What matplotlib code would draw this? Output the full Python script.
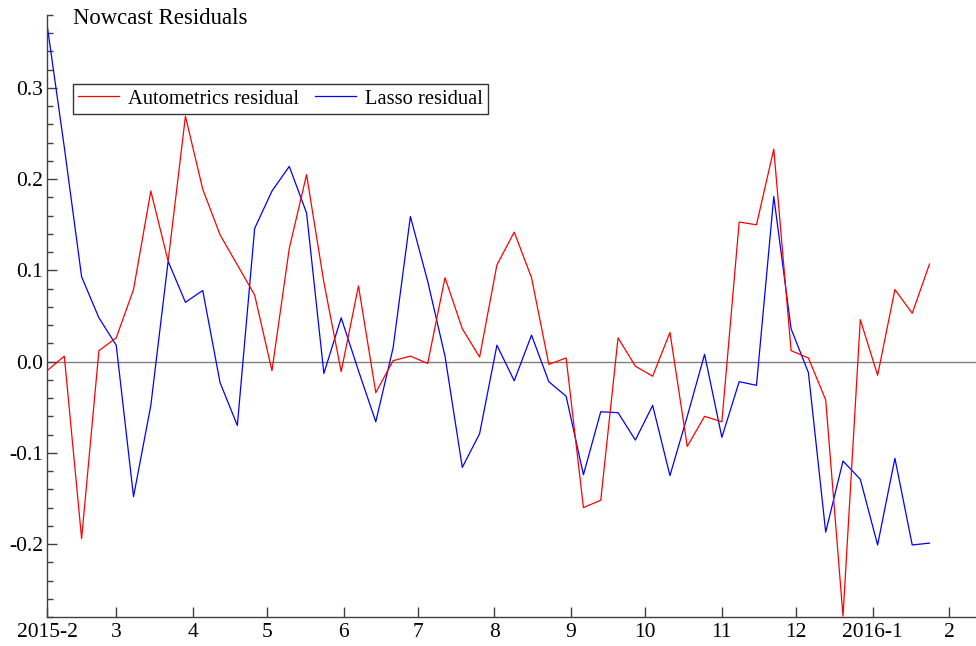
import matplotlib
matplotlib.use('Agg')
import matplotlib.pyplot as plt
import matplotlib.dates as mdates
import numpy as np
import pandas as pd

plt.rcParams['font.family'] = ['Liberation Serif', 'DejaVu Serif']
plt.rcParams['axes.unicode_minus'] = False

# weekly nowcast residuals, Feb 2015 - Jan 2016
weeks = pd.date_range('2015-02-01', periods=52, freq='7D')

autometrics = [
    -0.010, 0.006, -0.194, 0.012, 0.026, 0.079, 0.187, 0.110, 0.269, 0.189,
    0.139, 0.106, 0.073, -0.010, 0.124, 0.205, 0.087, -0.011, 0.083, -0.034,
    0.001, 0.006, -0.002, 0.092, 0.036, 0.005, 0.106, 0.142, 0.092, -0.003,
    0.004, -0.160, -0.152, 0.026, -0.005, -0.016, 0.032, -0.093, -0.060, -0.066,
    0.153, 0.150, 0.233, 0.012, 0.004, -0.042, -0.279, 0.046, -0.015, 0.079,
    0.053, 0.107,
]
lasso = [
    0.370, 0.235, 0.093, 0.048, 0.018, -0.148, -0.048, 0.110, 0.065, 0.078,
    -0.023, -0.070, 0.146, 0.187, 0.214, 0.163, -0.013, 0.048, -0.010, -0.066,
    0.015, 0.159, 0.088, 0.006, -0.116, -0.079, 0.018, -0.021, 0.029, -0.022,
    -0.038, -0.124, -0.055, -0.056, -0.086, -0.048, -0.125, -0.060, 0.008, -0.083,
    -0.022, -0.026, 0.181, 0.036, -0.012, -0.187, -0.109, -0.129, -0.201, -0.106,
    -0.201, -0.199,
]

yticks = [-0.2, -0.1, 0.0, 0.1, 0.2, 0.3]

fig = plt.figure(figsize=(9.76, 6.46), dpi=100)
ax = fig.add_axes([47 / 976, 29 / 646, 929 / 976, 602 / 646])

ax.axhline(0, color='#808080', lw=1.0, zorder=1)
ax.plot(weeks, autometrics, color='#ff0000', lw=0.9, label='Autometrics residual', zorder=3)
ax.plot(weeks, lasso, color='#0000ff', lw=0.9, label='Lasso residual', zorder=2)

start = mdates.date2num(pd.Timestamp('2015-02-01'))
ax.set_xlim(start, start + 375.8)
ax.set_ylim(-0.28, 0.38)

# month ticks, year shown on the first one and on January
ax.xaxis.set_major_locator(mdates.MonthLocator())
def month_label(x, pos):
    d = mdates.num2date(x)
    if d.month == 1 or (d.year == 2015 and d.month == 2):
        return f'{d.year}-{d.month}'
    return f'{d.month}'
ax.xaxis.set_major_formatter(plt.FuncFormatter(month_label))

ax.set_yticks(yticks)
ax.set_yticklabels([f'{v:.1f}' for v in yticks])
ax.yaxis.set_minor_locator(plt.MultipleLocator(0.02))

for side in ('top', 'right'):
    ax.spines[side].set_visible(False)
for side in ('left', 'bottom'):
    ax.spines[side].set_color('#404040')
    ax.spines[side].set_linewidth(1.0)

ax.tick_params(axis='both', which='major', direction='in', length=7,
               width=1.0, color='#404040', labelsize=15.5)
ax.tick_params(axis='y', which='major', pad=3)
ax.tick_params(axis='y', which='minor', direction='in', length=4,
               width=1.0, color='#404040')
ax.tick_params(axis='x', which='minor', length=0)
ax.tick_params(axis='x', pad=4)

fig.text(73 / 976, 1 - 19 / 646, 'Nowcast Residuals', fontsize=16.4,
         ha='left', va='center')

leg = ax.legend(loc='upper left', bbox_to_anchor=(26 / 929, 1 - 69 / 602),
                ncol=2, fontsize=14.8, frameon=True, fancybox=False,
                handlelength=2.0, handletextpad=0.45, columnspacing=0.75,
                borderpad=0.25, borderaxespad=0)
leg.get_frame().set_edgecolor('black')
leg.get_frame().set_linewidth(1.0)

fig.savefig('out.png', dpi=100, facecolor='white')
